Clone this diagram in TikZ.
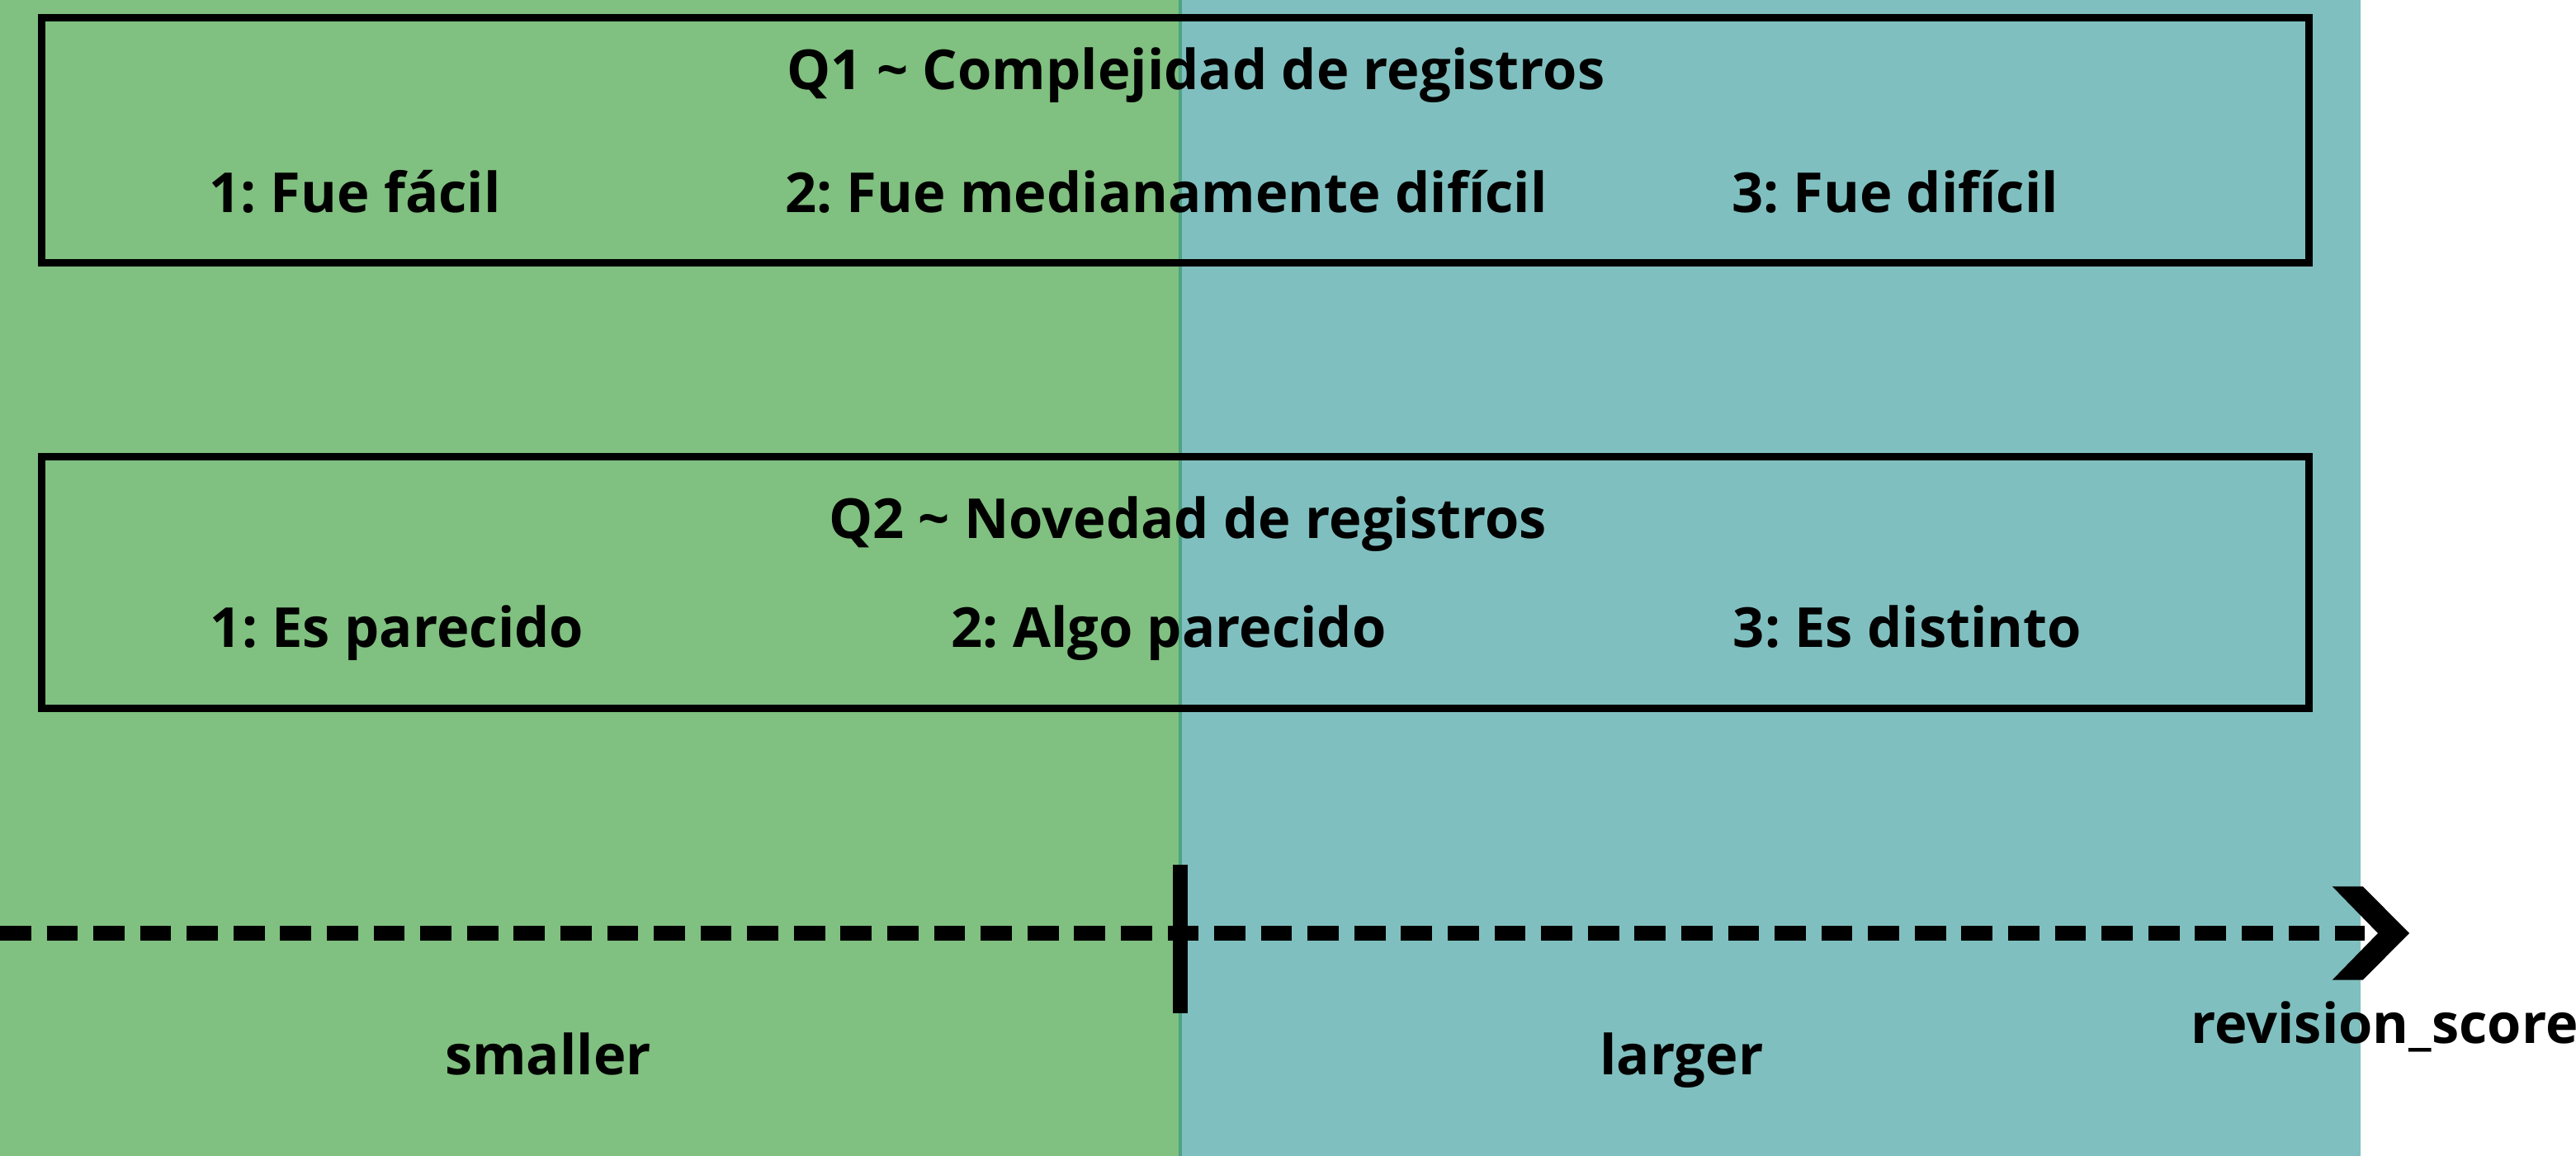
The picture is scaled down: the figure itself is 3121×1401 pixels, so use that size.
\documentclass[tikz,border=0pt]{standalone}
\usepackage{fontspec}
\setmainfont{Open Sans}
\frenchspacing

\definecolor{lowgreen}{HTML}{80C080}
\definecolor{highteal}{HTML}{80BFBF}
\definecolor{splitline}{HTML}{4DA383}

\begin{document}
\begin{tikzpicture}[x=0.01cm, y=-0.01cm,
    qbox/.style={draw=black, line width=2.56pt},
    qtext/.style={anchor=base, inner sep=0pt, font=\fontsize{19}{23}\selectfont\bfseries}]

    \useasboundingbox (0,0) rectangle (3121,1401);

    \pgfmathsetmacro{\split}{1430}
    \pgfmathsetmacro{\axisy}{1131}

    % Regions
    \fill[lowgreen] (0,0) rectangle (\split,1401);
    \fill[highteal] (\split,0) rectangle (2860,1401);
    \draw[splitline, line width=1.3pt] (\split,0) -- (\split,1401);

    % Question boxes
    \draw[qbox] (50.5,21.5) rectangle (2797.5,318.5);
    \draw[qbox] (50.5,553.5) rectangle (2797.5,858.5);

    \node[qtext] (Q1) at (1449,109) {Q1 \textasciitilde{} Complejidad de registros};
    \node[qtext] (Q2) at (1439,653) {Q2 \textasciitilde{} Novedad de registros};

    \foreach \i/\x/\t in {1/430/{1: Fue fácil}, 2/1413/{2: Fue medianamente difícil}, 3/2296/{3: Fue difícil}}
        {
            \node[qtext] (A\i) at (\x,258) {\t};
        }
    \foreach \i/\x/\t in {1/481/{1: Es parecido}, 2/1416/{2: Algo parecido}, 3/2311/{3: Es distinto}}
        {
            \node[qtext] (B\i) at (\x,785) {\t};
        }

    % Axis
    \coordinate (X0) at (0,\axisy);
    \coordinate (X1) at (2865,\axisy);
    \coordinate (XT) at (2919,\axisy);
    \draw[line width=5.36pt, dash pattern=on 10.73pt off 5.36pt] (X0) -- (X1);
    \fill (XT) -- ++(-56.3,-56.7) -- ++(-37,0) -- ++(55.3,56.7) -- ++(-55.3,56.7) -- ++(37,0) -- cycle;

    \coordinate (M0) at (\split,1047.7);
    \coordinate (M1) at (\split,1227.7);
    \draw[line width=5.32pt] (M0) -- (M1);

    \node[qtext] (LO) at (664,1302) {smaller};
    \node[qtext] (HI) at (2037.5,1302) {larger};
    \node[qtext] (XL) at (2889,1264) {revision\_score};

\end{tikzpicture}
\end{document}
